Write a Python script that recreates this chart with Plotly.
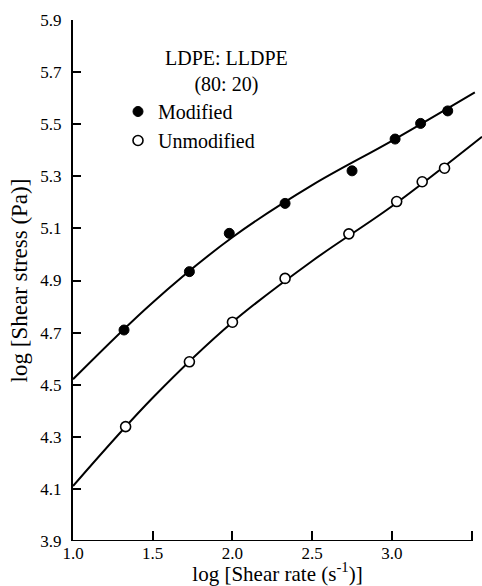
import plotly.graph_objects as go

# ---- data ----
mod_x = [1.32, 1.73, 1.98, 2.33, 2.75, 3.02, 3.18, 3.35]
mod_y = [4.710, 4.934, 5.081, 5.196, 5.321, 5.443, 5.503, 5.551]

unmod_x = [1.33, 1.73, 2.00, 2.33, 2.73, 3.03, 3.19, 3.33]
unmod_y = [4.339, 4.588, 4.740, 4.908, 5.079, 5.203, 5.279, 5.331]

# fitted curves
mod_fit_x = [1.00, 1.50, 2.00, 2.50, 3.00, 3.52]
mod_fit_y = [4.521, 4.816, 5.066, 5.266, 5.436, 5.622]

unmod_fit_x = [1.00, 1.50, 2.00, 2.50, 3.00, 3.565]
unmod_fit_y = [4.111, 4.450, 4.740, 4.975, 5.185, 5.452]

x_ticks = [1.0, 1.5, 2.0, 2.5, 3.0, 3.5]
x_tick_labels = ["1.0", "1.5", "2.0", "2.5", "3.0", "3.5"]
y_ticks = [3.9, 4.1, 4.3, 4.5, 4.7, 4.9, 5.1, 5.3, 5.5, 5.7, 5.9]
y_tick_labels = ["3.9", "4.1", "4.3", "4.5", "4.7", "4.9", "5.1", "5.3", "5.5", "5.7", "5.9"]

legend_title = "LDPE: LLDPE<br>(80: 20)"
x_title = "log [Shear rate (s<sup>-1</sup>)]"
y_title = "log [Shear stress (Pa)]"

FONT = "Liberation Serif, Times New Roman, serif"

fig = go.Figure()
fig.add_trace(go.Scatter(x=mod_fit_x, y=mod_fit_y, mode="lines",
                         line=dict(color="black", width=2, shape="spline", smoothing=1.0),
                         showlegend=False, hoverinfo="skip"))
fig.add_trace(go.Scatter(x=unmod_fit_x, y=unmod_fit_y, mode="lines",
                         line=dict(color="black", width=2, shape="spline", smoothing=1.0),
                         showlegend=False, hoverinfo="skip"))
fig.add_trace(go.Scatter(x=mod_x, y=mod_y, mode="markers", name="Modified",
                         marker=dict(symbol="circle", size=10, color="black",
                                     line=dict(color="black", width=1))))
fig.add_trace(go.Scatter(x=unmod_x, y=unmod_y, mode="markers", name="Unmodified",
                         marker=dict(symbol="circle", size=10, color="white",
                                     line=dict(color="black", width=1.6))))

# x-axis baseline from 1.0 to 3.5 only
fig.add_shape(type="line", xref="x", yref="y", x0=1.0, x1=3.5, y0=3.9, y1=3.9,
              line=dict(color="black", width=2))

fig.add_annotation(text=legend_title, xref="paper", yref="paper",
                   x=(226 - 73) / 409, y=(541 - 71) / 521,
                   xanchor="center", yanchor="middle", align="center",
                   showarrow=False, font=dict(family=FONT, size=20, color="black"))

fig.update_layout(
    width=482, height=586,
    margin=dict(l=73, r=0, t=20, b=45),
    paper_bgcolor="white", plot_bgcolor="white",
    font=dict(family=FONT, size=17, color="black"),
    showlegend=True,
    legend=dict(x=(118 - 73) / 409, y=(541 - 92) / 521, xanchor="left", yanchor="top",
                bgcolor="rgba(0,0,0,0)", borderwidth=0,
                font=dict(family=FONT, size=20, color="black"),
                itemwidth=30, tracegroupgap=0),
    xaxis=dict(range=[1.0, 3.565], showgrid=False, zeroline=False, showline=False,
               tickmode="array", tickvals=x_ticks, ticktext=x_tick_labels,
               ticks="inside", ticklen=10, tickwidth=1.5, tickcolor="black",
               ticklabelstandoff=0,
               tickfont=dict(family=FONT, size=17, color="black"),
               title=dict(text=x_title, standoff=7,
                          font=dict(family=FONT, size=21, color="black"))),
    yaxis=dict(range=[3.9, 5.9], showgrid=False, zeroline=False, showline=True,
               linecolor="black", linewidth=2,
               tickmode="array", tickvals=y_ticks, ticktext=y_tick_labels,
               ticks="inside", ticklen=8, tickwidth=1.5, tickcolor="black",
               ticklabelstandoff=6,
               tickfont=dict(family=FONT, size=17, color="black"),
               title=dict(text=y_title, standoff=6,
                          font=dict(family=FONT, size=23, color="black"))),
)

fig.write_html("out.html")
